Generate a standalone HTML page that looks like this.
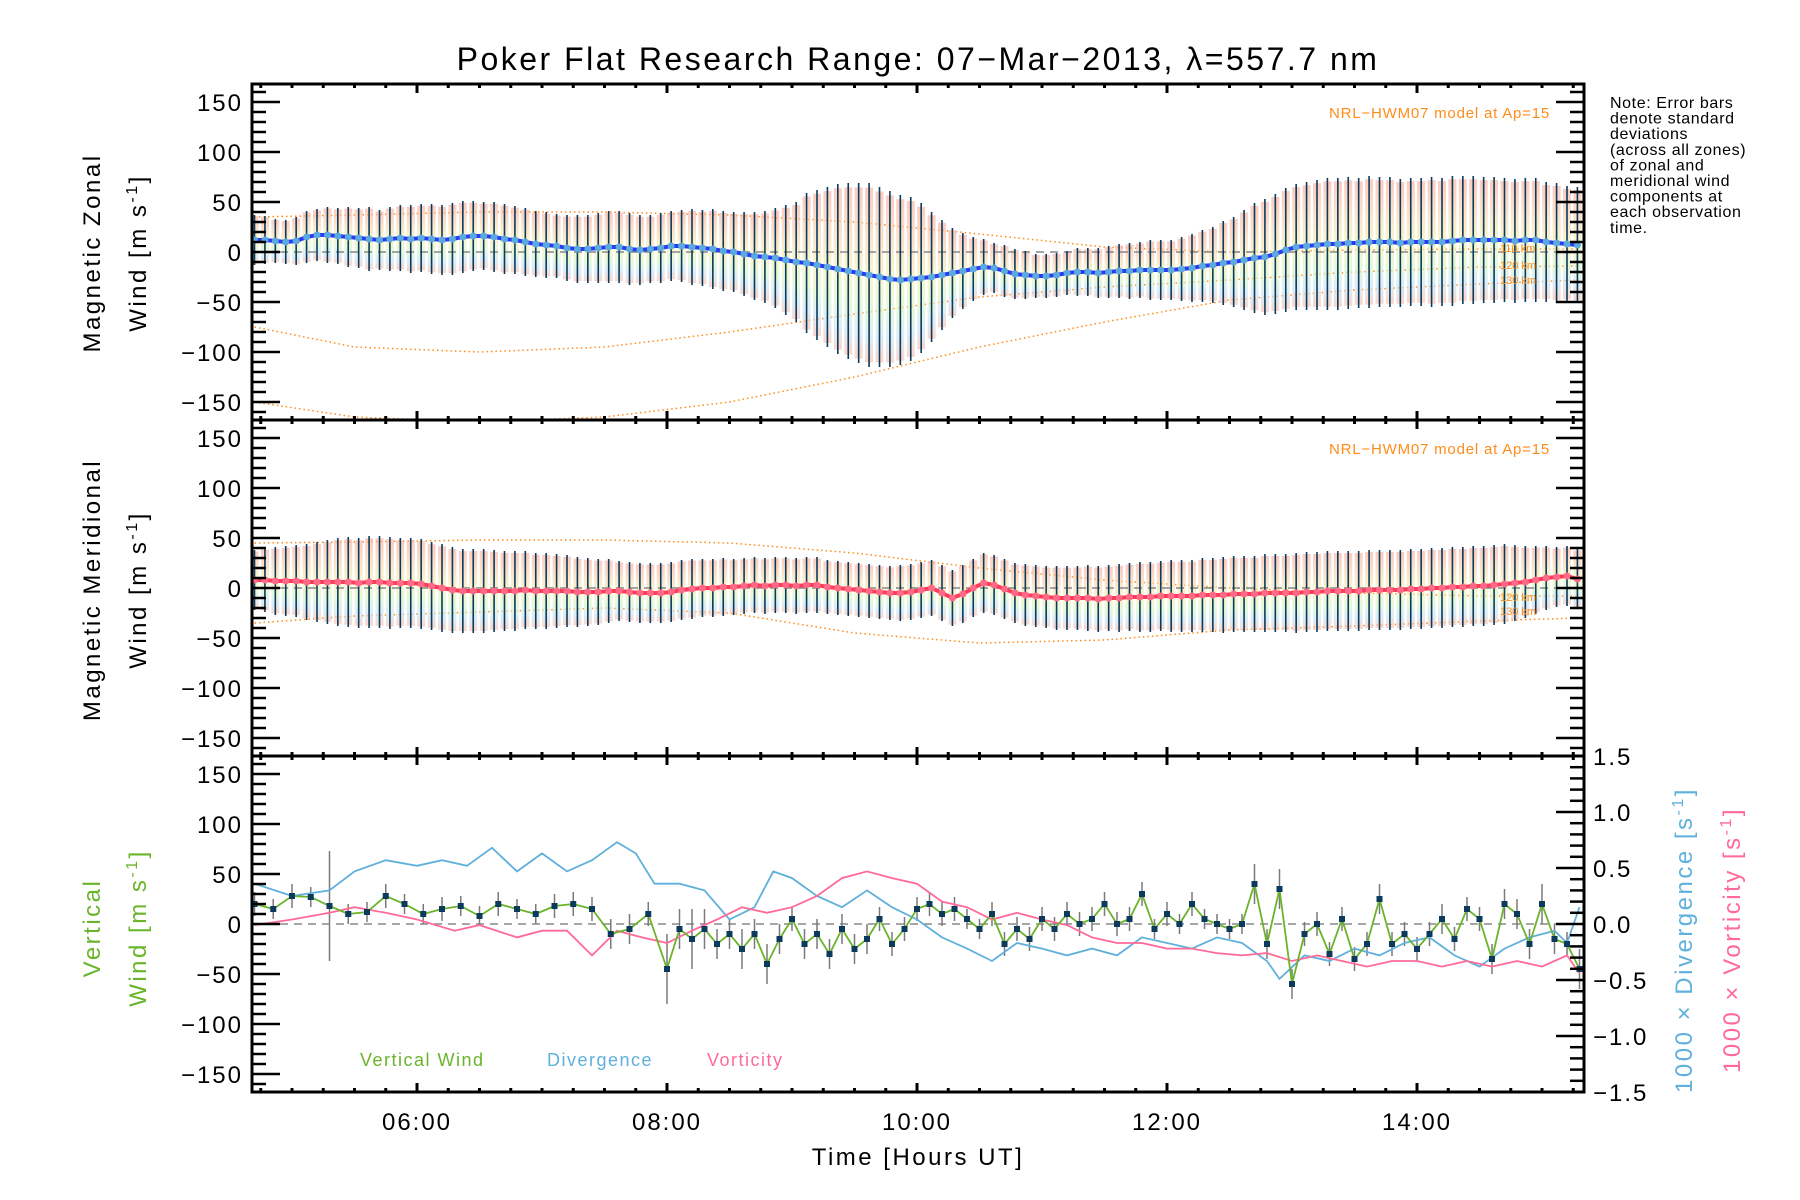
<!DOCTYPE html>
<html><head><meta charset="utf-8"><style>
html,body{margin:0;padding:0;background:#fff;}
svg{display:block;font-family:"Liberation Sans",sans-serif;}
</style></head><body>
<svg id="chart" width="1800" height="1200" viewBox="0 0 1800 1200" xmlns="http://www.w3.org/2000/svg">
<defs>
<linearGradient id="cloud" x1="0" y1="0" x2="0" y2="1">
<stop offset="0" stop-color="#f8b0a0"/><stop offset="0.3" stop-color="#f8d8b0"/><stop offset="0.5" stop-color="#f4f0b0"/><stop offset="0.7" stop-color="#d8f4c8"/><stop offset="0.85" stop-color="#c8e4f4"/><stop offset="1" stop-color="#f8c0b0"/>
</linearGradient>
</defs>
<text x="918" y="70" font-size="32" letter-spacing="2.5" text-anchor="middle">Poker Flat Research Range: 07−Mar−2013, λ=557.7 nm</text>
<g id="plots"></g>
<text x="1550" y="118" font-size="15" letter-spacing="0.8" fill="#ff8c1a" text-anchor="end">NRL−HWM07 model at Ap=15</text>
<text x="1550" y="454" font-size="15" letter-spacing="0.8" fill="#ff8c1a" text-anchor="end">NRL−HWM07 model at Ap=15</text>
<g font-size="16" letter-spacing="0.6">
<text x="1610" y="108">Note: Error bars</text><text x="1610" y="123.6">denote standard</text><text x="1610" y="139.2">deviations</text><text x="1610" y="154.8">(across all zones)</text><text x="1610" y="170.4">of zonal and</text><text x="1610" y="186">meridional wind</text><text x="1610" y="201.6">components at</text><text x="1610" y="217.2">each observation</text><text x="1610" y="232.8">time.</text>
</g>
<g font-size="24" letter-spacing="2.5" text-anchor="middle">
<text transform="translate(100,253) rotate(-90)">Magnetic Zonal</text>
<text transform="translate(146,253) rotate(-90)">Wind [m s<tspan dy="-9" font-size="16">-1</tspan><tspan dy="9">]</tspan></text>
<text transform="translate(100,590) rotate(-90)">Magnetic Meridional</text>
<text transform="translate(146,590) rotate(-90)">Wind [m s<tspan dy="-9" font-size="16">-1</tspan><tspan dy="9">]</tspan></text>
<text transform="translate(100,928) rotate(-90)" fill="#6ab42a">Vertical</text>
<text transform="translate(146,928) rotate(-90)" fill="#6ab42a">Wind [m s<tspan dy="-9" font-size="16">-1</tspan><tspan dy="9">]</tspan></text>
<text transform="translate(1692,940) rotate(-90)" fill="#60b0dc">1000 × Divergence [s<tspan dy="-9" font-size="16">-1</tspan><tspan dy="9">]</tspan></text>
<text transform="translate(1740,940) rotate(-90)" fill="#ff6a98">1000 × Vorticity [s<tspan dy="-9" font-size="16">-1</tspan><tspan dy="9">]</tspan></text>
<text x="918" y="1165">Time [Hours UT]</text>
</g>
<g font-size="18" letter-spacing="1.5">
<text x="360" y="1066" fill="#6ab42a">Vertical Wind</text>
<text x="547" y="1066" fill="#60b0dc">Divergence</text>
<text x="707" y="1066" fill="#ff6a98">Vorticity</text>
</g>
</svg>
<script>
// ---- data ----
const xHourTicks = [6, 8, 10, 12, 14];
const xTickLabels = ["06:00", "08:00", "10:00", "12:00", "14:00"];
const yTicks = [-150, -100, -50, 0, 50, 100, 150];
const rightTicks = [-1.5, -1.0, -0.5, 0.0, 0.5, 1.0, 1.5];
const zonalMean = [12,12,11,10,
11,15,17,17,16,15,14,13,12,13,14,13,
14,13,12,13,15,16,16,15,13,12,10,8,
7,6,4,3,3,4,5,5,3,2,3,4,
6,6,5,4,3,1,0,-2,-4,-5,-6,-8,
-10,-11,-13,-15,-17,-19,-21,-23,-25,-27,-28,-27,
-26,-25,-23,-21,-19,-17,-15,-16,-19,-22,-23,-24,
-24,-23,-21,-20,-20,-21,-20,-19,-19,-18,-18,-18,
-18,-17,-16,-14,-13,-11,-10,-8,-6,-5,-2,2,
5,6,7,8,8,9,9,10,10,10,9,10,
10,10,10,11,12,12,12,12,12,11,12,12,
10,9,8,7];
const zonalStd = [25,24,22,22,
24,26,26,28,28,30,30,32,30,32,33,34,
34,35,35,36,36,35,34,35,35,34,34,33,
33,32,33,34,34,35,36,36,36,35,34,35,
35,36,38,38,40,40,40,42,44,46,50,55,
60,70,75,80,85,88,90,92,90,88,85,82,
75,65,55,45,38,32,28,25,26,25,24,22,
22,22,22,24,24,25,26,27,28,28,30,30,
30,32,34,36,38,42,45,50,55,58,60,62,
63,64,65,66,66,66,65,66,65,65,64,64,
64,65,64,65,64,64,63,63,62,62,62,62,
60,60,58,58];
const meridMean = [8,8,7,7,
7,6,6,6,6,6,5,6,6,5,5,5,
4,2,0,-2,-3,-3,-3,-3,-3,-3,-2,-3,
-3,-3,-3,-4,-4,-4,-3,-3,-4,-5,-5,-5,
-4,-2,-1,0,0,1,1,2,3,2,3,3,
2,3,3,1,0,-1,-2,-3,-4,-5,-5,-4,
-2,0,-5,-10,-6,0,5,3,-1,-5,-7,-8,
-9,-10,-10,-10,-10,-11,-10,-10,-9,-9,-9,-8,
-8,-8,-8,-7,-7,-7,-6,-6,-6,-5,-5,-5,
-5,-4,-4,-3,-3,-3,-3,-2,-2,-2,-2,-1,
-1,0,0,1,1,2,2,3,4,5,6,8,
10,11,12,9];
const meridStd = [30,32,34,35,
36,38,40,42,44,45,45,46,46,46,45,45,
45,44,44,43,42,42,42,41,40,40,39,38,
38,37,36,35,34,33,32,30,30,30,30,30,
30,30,30,29,29,29,28,28,28,28,28,28,
28,28,28,27,27,27,27,27,27,27,28,28,
28,28,28,28,29,29,30,30,30,30,31,31,
31,32,32,32,33,33,33,34,34,35,35,35,
36,36,36,37,37,38,38,38,38,39,39,39,
40,40,40,40,40,40,40,40,40,40,40,40,
40,40,40,40,40,40,40,40,40,38,36,34,
32,30,30,30];
const modelZonalT = [4.7,5.5,6.5,7.5,8.5,9.5,10.5,11.5,12.5,13.5,14.5,15.3];
const modelZonal110 = [35,37,40,40,37,30,18,5,0,2,3,3];
const modelZonal120 = [-75,-95,-100,-95,-80,-62,-45,-35,-28,-20,-15,-14];
const modelZonal130 = [-150,-165,-170,-165,-150,-125,-95,-70,-48,-38,-32,-28];
const modelMeridT = [4.7,5.5,6.5,7.5,8.5,9.5,10.5,11.5,12.5,13.5,14.5,15.3];
const modelMerid110 = [45,46,48,48,45,35,20,8,0,-5,-8,-8];
const modelMerid130 = [-35,-28,-24,-20,-25,-45,-55,-52,-42,-38,-33,-30];
const vwT = [4.7,4.85,5.0,5.15,5.3,5.45,5.6,5.75,5.9,6.05,6.2,6.35,6.5,6.65,6.8,6.95,7.1,7.25,7.4,7.55,7.7,7.85,8.0,8.1,8.2,8.3,8.4,8.5,8.6,8.7,8.8,8.9,9.0,9.1,9.2,9.3,9.4,9.5,9.6,9.7,9.8,9.9,10.0,10.1,10.2,10.3,10.4,10.5,10.6,10.7,10.8,10.9,11.0,11.1,11.2,11.3,11.4,11.5,11.6,11.7,11.8,11.9,12.0,12.1,12.2,12.3,12.4,12.5,12.6,12.7,12.8,12.9,13.0,13.1,13.2,13.3,13.4,13.5,13.6,13.7,13.8,13.9,14.0,14.1,14.2,14.3,14.4,14.5,14.6,14.7,14.8,14.9,15.0,15.1,15.2,15.3];
const vwVal = [20,15,28,27,18,10,12,28,20,10,15,18,8,20,15,10,18,20,15,-10,-5,10,-45,-5,-15,-5,-20,-10,-25,-10,-40,-15,5,-20,-10,-30,-5,-25,-15,5,-20,-5,15,20,10,15,5,-5,10,-20,-5,-15,5,-5,10,0,5,20,0,5,30,-5,10,0,20,5,0,-5,0,40,-20,35,-60,-10,0,-30,5,-35,-20,25,-20,-10,-25,-10,5,-15,15,5,-35,20,10,-20,20,-15,-20,-45];
const vwErr = [12,10,12,10,55,10,10,12,10,10,12,10,10,12,10,10,12,12,12,15,15,12,35,20,30,20,15,15,20,15,20,15,12,15,15,15,15,15,15,12,12,12,12,12,12,12,10,10,12,12,12,12,12,12,12,12,12,12,12,12,12,10,12,10,12,10,10,10,10,20,15,20,15,12,12,12,12,12,12,15,12,12,12,12,15,12,12,12,15,15,15,15,20,15,12,20];
const divT = [4.7,5.0,5.3,5.5,5.75,6.0,6.2,6.4,6.6,6.8,7.0,7.2,7.4,7.6,7.75,7.9,8.1,8.3,8.5,8.7,8.85,9.0,9.2,9.4,9.6,9.8,10.0,10.2,10.4,10.6,10.8,11.0,11.2,11.4,11.6,11.8,12.0,12.2,12.4,12.6,12.8,12.9,13.1,13.3,13.5,13.7,13.9,14.1,14.3,14.5,14.7,14.9,15.1,15.2,15.3];
const divVal = [0.36,0.25,0.3,0.47,0.57,0.52,0.57,0.52,0.68,0.47,0.63,0.47,0.57,0.73,0.63,0.36,0.36,0.3,0.04,0.15,0.47,0.41,0.25,0.15,0.3,0.15,0.04,-0.12,-0.22,-0.33,-0.17,-0.22,-0.28,-0.22,-0.28,-0.12,-0.17,-0.22,-0.12,-0.17,-0.33,-0.49,-0.28,-0.33,-0.22,-0.28,-0.17,-0.12,-0.28,-0.38,-0.22,-0.12,-0.06,-0.17,0.15];
const vorT = [4.7,5.0,5.3,5.5,5.75,6.0,6.3,6.5,6.8,7.0,7.2,7.4,7.6,7.8,8.0,8.2,8.4,8.6,8.8,9.0,9.2,9.4,9.6,9.8,10.0,10.2,10.4,10.6,10.8,11.0,11.2,11.4,11.6,11.8,12.0,12.2,12.4,12.6,12.8,13.0,13.2,13.4,13.6,13.8,14.0,14.2,14.4,14.6,14.8,15.0,15.2,15.3];
const vorVal = [-0.01,0.04,0.1,0.15,0.1,0.04,-0.06,-0.01,-0.12,-0.06,-0.06,-0.28,-0.06,-0.12,-0.17,-0.06,0.04,0.15,0.1,0.15,0.25,0.41,0.47,0.41,0.36,0.2,0.15,0.04,0.1,0.04,-0.01,-0.12,-0.17,-0.17,-0.22,-0.22,-0.26,-0.28,-0.26,-0.33,-0.28,-0.33,-0.38,-0.33,-0.33,-0.38,-0.33,-0.38,-0.33,-0.38,-0.28,-0.44];

// ---- layout ----
const X0 = 252, X1 = 1584, T0 = 4.68, T1 = 15.336;
const PANEL_TOPS = [84, 420, 756], PH = 336;
const xs = h => X0 + (h - T0) / (T1 - T0) * (X1 - X0);
const ys = (p, v) => PANEL_TOPS[p] + PH / 2 - v * PH / 336;
const yr = v => PANEL_TOPS[2] + PH / 2 - v * PH / 3;
const barTime = i => 4.7 + i / 12;
const NS = "http://www.w3.org/2000/svg";
const root = document.getElementById('plots');
function mk(tag, attrs, parent) {
  const e = document.createElementNS(NS, tag);
  for (const k in attrs) e.setAttribute(k, attrs[k]);
  (parent || root).appendChild(e);
  return e;
}
function poly(pts) { return pts.map(p => p[0].toFixed(1) + ',' + p[1].toFixed(1)).join(' '); }

function clip(p) {
  const c = mk('clipPath', {id: 'clip' + p});
  mk('rect', {x: X0, y: PANEL_TOPS[p], width: X1 - X0, height: PH}, c);
}
[0,1,2].forEach(clip);

function windPanel(p, mean, std, name, lineCol, dotCol, modelT, models) {
  const g = mk('g', {'clip-path': 'url(#clip' + p + ')'});
  
  
  models.forEach((m, k) => {
    const pl = mk('polyline', {points: poly(modelT.map((t, i) => [xs(t), ys(p, m[i])])), fill: 'none', stroke: '#ff8c1a', 'stroke-width': 1.5, 'stroke-dasharray': '1.5,3'}, g);
    
    
  });
  mean.forEach((m, i) => {
    const x = xs(barTime(i));
    const r = mk('rect', {x: x - 4, y: ys(p, m + std[i] * 0.95), width: 8, height: std[i] * 1.9 * PH / 336, fill: 'url(#cloud)', opacity: 0.65}, g);
    
    
  });
  const z = mk('line', {x1: X0, x2: X1, y1: ys(p, 0), y2: ys(p, 0), stroke: '#888', 'stroke-width': 1.5, 'stroke-dasharray': '8,6'}, g);
  
  
  mean.forEach((m, i) => {
    const x = xs(barTime(i));
    const b = mk('line', {x1: x, x2: x, y1: ys(p, m + std[i]), y2: ys(p, m - std[i]), stroke: '#0b3a5c', 'stroke-width': 1.6}, g);
    
    
  });
  const ml = mk('polyline', {points: poly(mean.map((m, i) => [xs(barTime(i)), ys(p, m)])), fill: 'none', stroke: lineCol, 'stroke-width': 4}, g);
  
  
  mean.forEach((m, i) => {
    const c = mk('circle', {cx: xs(barTime(i)), cy: ys(p, m), r: 3.5, fill: dotCol}, g);
    
    
  });
}
windPanel(0, zonalMean, zonalStd, 'zonal', '#2a3cf0', '#5aaae0', modelZonalT, [modelZonal110, modelZonal120, modelZonal130]);
windPanel(1, meridMean, meridStd, 'meridional', '#ff3a5a', '#ff6a88', modelMeridT, [modelMerid110, modelMerid130]);

[["110 km", 4], ["120 km", -13], ["130 km", -28]].forEach(l => {
  const t = mk('text', {x: 1500, y: ys(0, l[1]) + 4, 'font-size': 11, fill: '#ff8c1a'});
  t.textContent = l[0];
  
  
});
[["120 km", -9], ["130 km", -23]].forEach(l => {
  const t = mk('text', {x: 1500, y: ys(1, l[1]) + 4, 'font-size': 11, fill: '#ff8c1a'});
  t.textContent = l[0];
  
  
});

(function () {
  const g = mk('g', {'clip-path': 'url(#clip2)'});
  
  
  const z = mk('line', {x1: X0, x2: X1, y1: ys(2, 0), y2: ys(2, 0), stroke: '#888', 'stroke-width': 1.5, 'stroke-dasharray': '8,6'}, g);
  
  
  vwT.forEach((t, i) => {
    const b = mk('line', {x1: xs(t), x2: xs(t), y1: ys(2, vwVal[i] + vwErr[i]), y2: ys(2, vwVal[i] - vwErr[i]), stroke: '#7a7a7a', 'stroke-width': 1.5}, g);
    
    
  });
  const dv = mk('polyline', {points: poly(divT.map((t, i) => [xs(t), yr(divVal[i])])), fill: 'none', stroke: '#60b0dc', 'stroke-width': 1.8}, g);
  
  
  const vo = mk('polyline', {points: poly(vorT.map((t, i) => [xs(t), yr(vorVal[i])])), fill: 'none', stroke: '#ff6a98', 'stroke-width': 1.8}, g);
  
  
  const vw = mk('polyline', {points: poly(vwT.map((t, i) => [xs(t), ys(2, vwVal[i])])), fill: 'none', stroke: '#6ab42a', 'stroke-width': 1.8}, g);
  
  
  vwT.forEach((t, i) => {
    const r = mk('rect', {x: xs(t) - 3, y: ys(2, vwVal[i]) - 3, width: 6, height: 6, fill: '#0b3a5c'}, g);
    
    
  });
})();

const ax = mk('g', {stroke: '#000', fill: 'none'});


[0,1,2].forEach(p => {
  const top = PANEL_TOPS[p], bot = top + PH;
  for (let v = -160; v <= 160; v += 10) {
    const major = v % 50 === 0;
    const L = major ? 28 : 14;
    const y = ys(p, v);
    mk('line', {x1: X0, x2: X0 + L, y1: y, y2: y, 'stroke-width': 2.5}, ax);
    if (p < 2) mk('line', {x1: X1, x2: X1 - L, y1: y, y2: y, 'stroke-width': 2.5}, ax);
  }
  for (let h = 4.75; h <= 15.34; h += 0.25) {
    const major = Math.abs(h - Math.round(h)) < 0.01 && Math.round(h) % 2 === 0;
    const L = major ? 9 : 4;
    const x = xs(h);
    mk('line', {x1: x, x2: x, y1: bot, y2: bot - L, 'stroke-width': 3}, ax);
    mk('line', {x1: x, x2: x, y1: top, y2: top + L, 'stroke-width': 3}, ax);
  }
  mk('rect', {x: X0, y: top, width: X1 - X0, height: PH, 'stroke-width': 3}, ax);
  yTicks.forEach(v => {
    const t = mk('text', {x: 243, y: ys(p, v) + 9, 'font-size': 24, 'letter-spacing': 2, 'text-anchor': 'end', fill: '#000'});
    t.textContent = v < 0 ? '−' + Math.abs(v) : String(v);
    
    
  });
});
for (let k = -15; k <= 15; k++) {
  const v = k / 10, y = yr(v);
  const L = k % 5 === 0 ? 28 : 14;
  mk('line', {x1: X1, x2: X1 - L, y1: y, y2: y, 'stroke-width': 2.5}, ax);
}
rightTicks.forEach(v => {
  const t = mk('text', {x: 1593, y: yr(v) + 9, 'font-size': 24, 'letter-spacing': 2, fill: '#000'});
  t.textContent = (v < 0 ? '−' : '') + Math.abs(v).toFixed(1);
  
  
});
xHourTicks.forEach((h, i) => {
  const t = mk('text', {x: xs(h), y: 1130, 'font-size': 24, 'letter-spacing': 2, 'text-anchor': 'middle', fill: '#000'});
  t.textContent = xTickLabels[i];
  
  
});
</script>
</body></html>
